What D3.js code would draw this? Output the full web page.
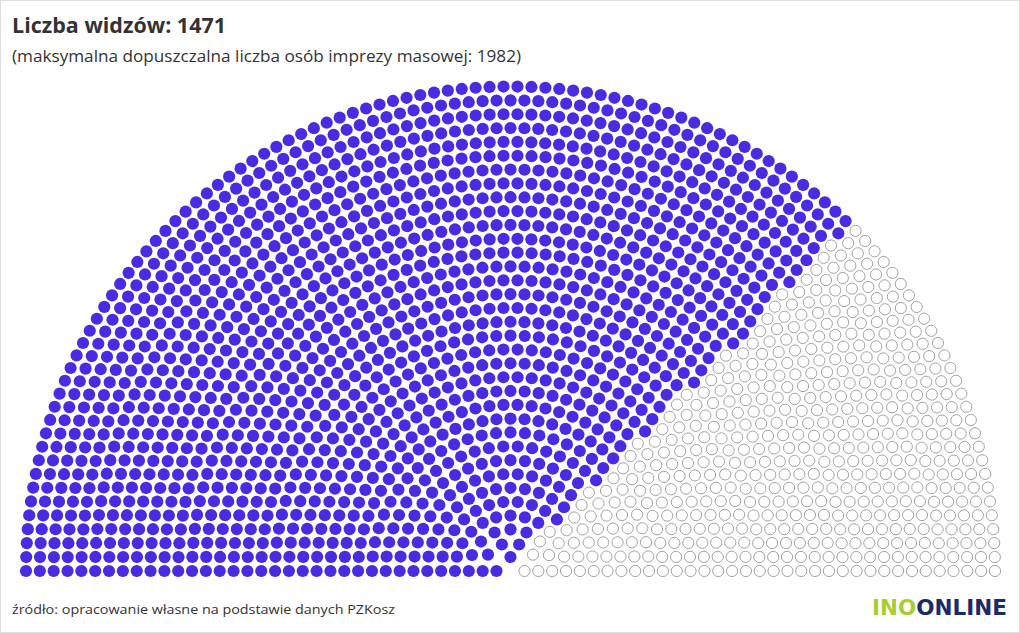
<!DOCTYPE html>
<html>
<head>
<meta charset="utf-8">
<script src="https://cdn.jsdelivr.net/npm/d3@7"></script>
<style>
  html, body { margin: 0; padding: 0; background: #fff; }
  svg { display: block; }
</style>
</head>
<body>
<svg id="chart" width="1020" height="633"></svg>
<script>
// ---- data ----
const categories = ["widzowie", "wolne miejsca"];
const capacity = 1982;            // maksymalna dopuszczalna liczba osób
const values = [1471, 1982 - 1471]; // filled, empty
const titleText = "Liczba widzów: 1471";
const subtitleText = "(maksymalna dopuszczalna liczba osób imprezy masowej: 1982)";
const sourceText = "źródło: opracowanie własne na podstawie danych PZKosz";

// ---- layout ----
const W = 1020, H = 633;
const svg = d3.select("#chart");
svg.append("rect").attr("x", 0.5).attr("y", 0.5).attr("width", W - 1).attr("height", H - 1)
  .attr("fill", "#fff").attr("stroke", "#dedede");

const cx = 510.5, cy = 571;
const nRings = 35;
const rInner = 14, rOuter = 484.5;
const ringScale = d3.scaleLinear().domain([0, nRings - 1]).range([rInner, rOuter]);
const radii = d3.range(nRings).map(i => ringScale(i));
const sumR = d3.sum(radii);

// seats per ring proportional to radius (largest remainder)
const raw = radii.map(r => capacity * r / sumR);
const counts = raw.map(Math.floor);
let rest = capacity - d3.sum(counts);
raw.map((v, i) => ({ i, rem: v - Math.floor(v) }))
  .sort((a, b) => b.rem - a.rem)
  .slice(0, rest)
  .forEach(d => counts[d.i]++);

const seats = [];
radii.forEach((r, i) => {
  const n = counts[i];
  for (let j = 0; j < n; j++) {
    const a = n === 1 ? Math.PI / 2 : Math.PI - Math.PI * j / (n - 1);
    seats.push({ ring: i, r, a });
  }
});
seats.sort((p, q) => (q.a - p.a) || (p.r - q.r));
seats.forEach((s, k) => { s.cat = k < values[0] ? 0 : 1; });

const color = d3.scaleOrdinal().domain(categories).range(["#4a2be2", "#ffffff"]);
const stroke = d3.scaleOrdinal().domain(categories).range(["none", "#a3a3a3"]);

svg.append("g").selectAll("circle").data(seats).join("circle")
  .attr("cx", d => cx + d.r * Math.cos(d.a))
  .attr("cy", d => cy - d.r * Math.sin(d.a))
  .attr("r", d => d.cat === 0 ? 6.1 : 5.6)
  .attr("fill", d => color(categories[d.cat]))
  .attr("stroke", d => stroke(categories[d.cat]))
  .attr("stroke-width", 1);

// ---- texts ----
const font = "'Open Sans', 'Noto Sans', sans-serif";
svg.append("text").attr("x", 12).attr("y", 33)
  .attr("font-family", font).attr("font-weight", 700).attr("font-size", 20.5)
  .attr("textLength", 214).attr("lengthAdjust", "spacingAndGlyphs")
  .attr("fill", "#333").text(titleText);
svg.append("text").attr("x", 12).attr("y", 62)
  .attr("font-family", font).attr("font-weight", 400).attr("font-size", 15.5)
  .attr("textLength", 509).attr("lengthAdjust", "spacingAndGlyphs")
  .attr("fill", "#333").text(subtitleText);
svg.append("text").attr("x", 12).attr("y", 614)
  .attr("font-family", font).attr("font-weight", 400).attr("font-size", 13.5)
  .attr("textLength", 383).attr("lengthAdjust", "spacingAndGlyphs")
  .attr("fill", "#333").text(sourceText);

// logo
const logo = svg.append("text").attr("x", 872).attr("y", 615)
  .attr("font-family", "'DejaVu Sans', sans-serif").attr("font-weight", 700).attr("font-size", 22)
  .attr("textLength", 135).attr("lengthAdjust", "spacingAndGlyphs");
logo.append("tspan").attr("fill", "#a4cf2e").text("INO");
logo.append("tspan").attr("fill", "#1c2a6b").text("ONLINE");
</script>
</body>
</html>
